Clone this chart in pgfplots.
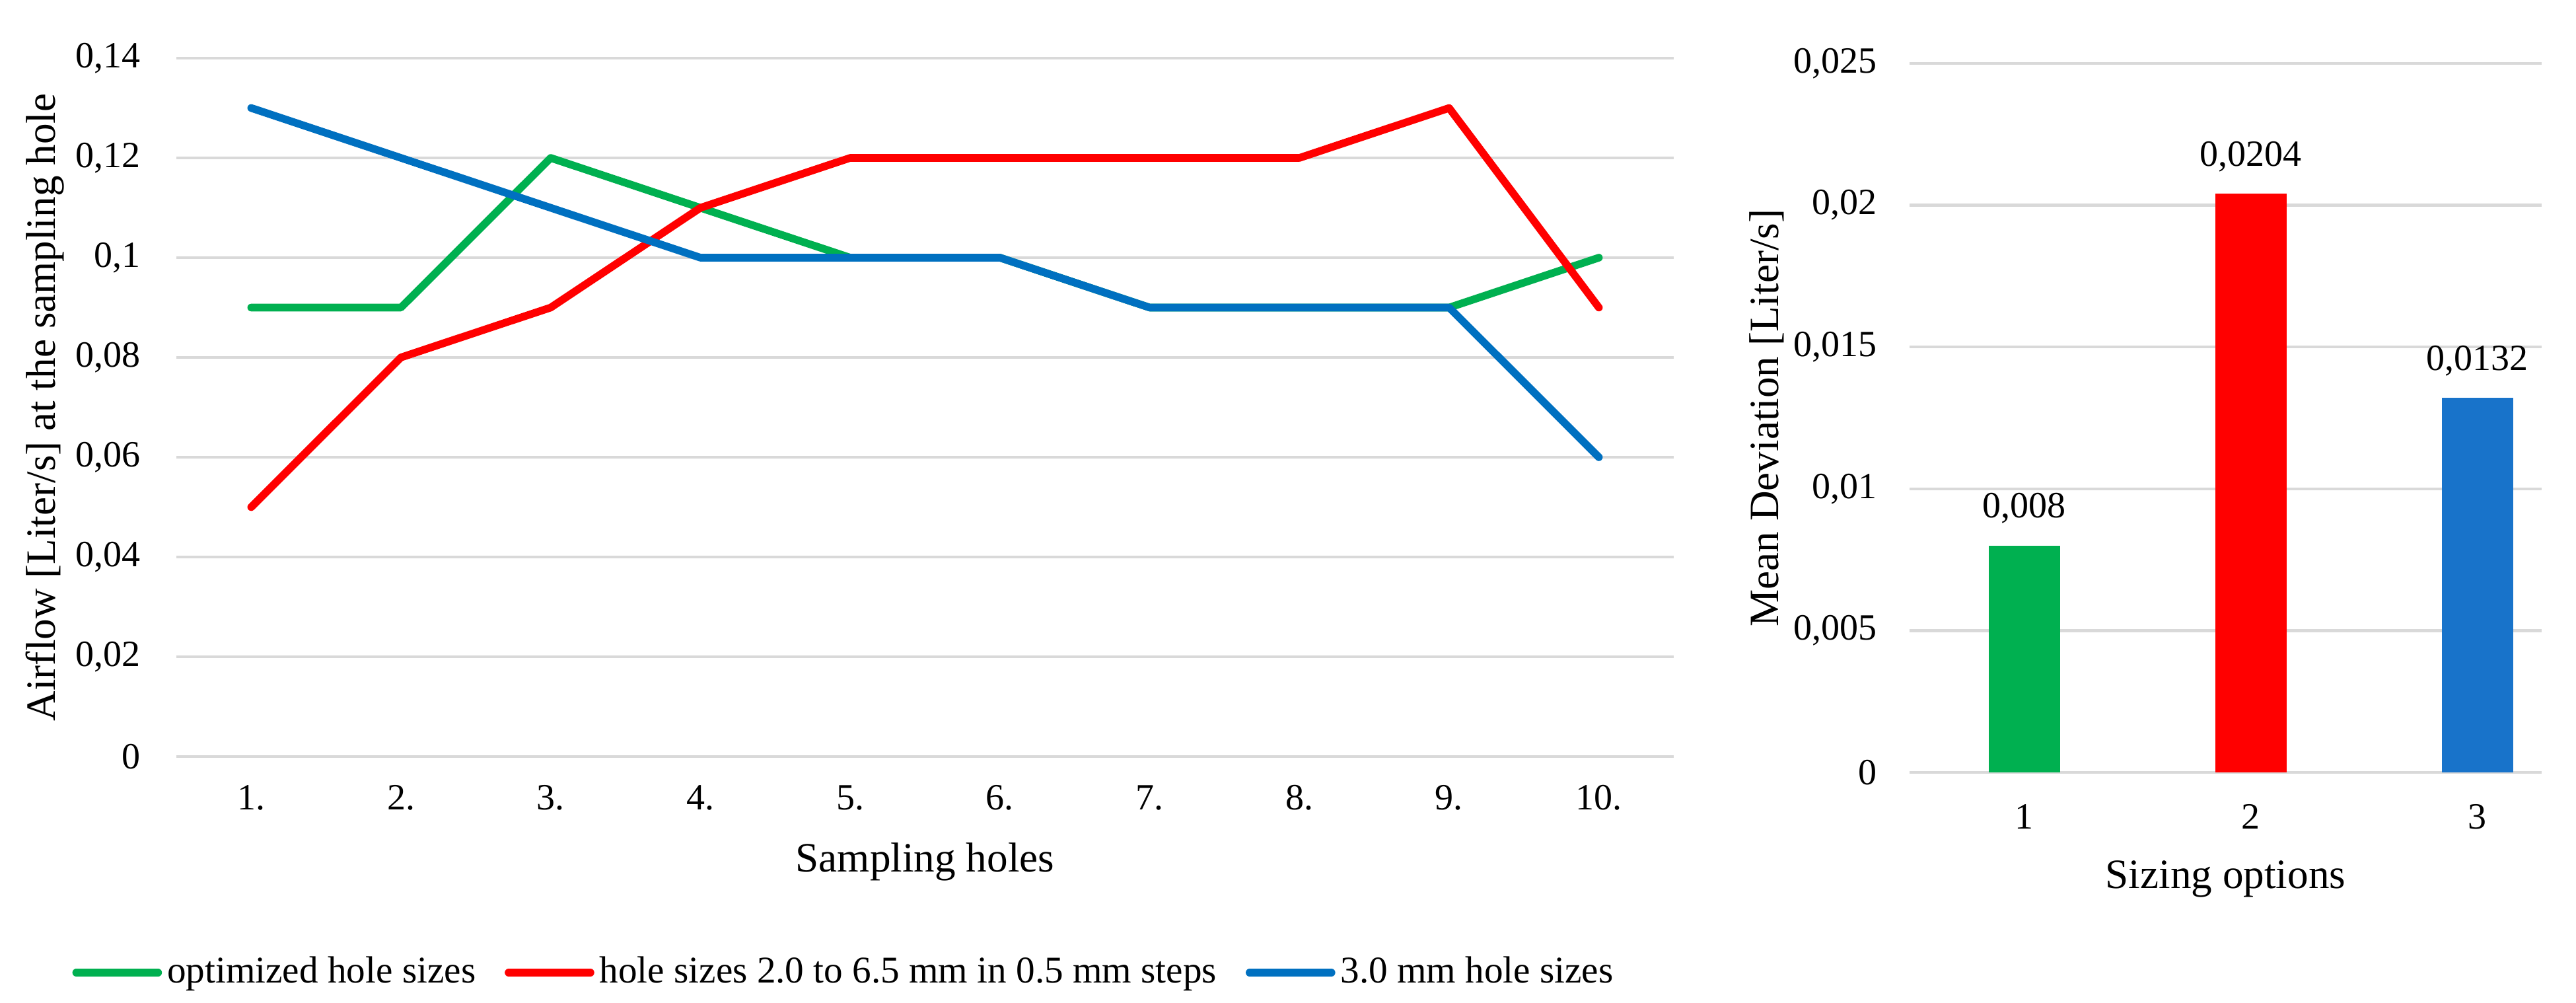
\documentclass[border=0pt]{standalone}
\usepackage{fontspec}
\setmainfont{Liberation Serif}
\usepackage{pgfplots}
\pgfplotsset{compat=1.18}
\definecolor{xgreen}{HTML}{00B050}
\definecolor{xred}{HTML}{FF0000}
\definecolor{xblue}{HTML}{0070C0}
\definecolor{barblue}{HTML}{1873CA}
\definecolor{gridgray}{HTML}{D9D9D9}

\pgfplotsset{
  excelstyle/.style={
    scale only axis,
    axis line style={draw=none},
    major tick length=0pt,
    ymajorgrids,
    major grid style={gridgray, line width=1.1pt},
    scaled y ticks=false,
    /pgf/number format/assume math mode=true,
    tick label style={font=\fontsize{14}{17}\selectfont},
    label style={font=\fontsize{15.8}{19}\selectfont},
  }
}

\begin{document}
\fontsize{14}{17}\selectfont
\begin{tikzpicture}
\useasboundingbox (0,0) rectangle (975pt,379.5pt);

% left: airflow per sampling hole
\begin{axis}[
  excelstyle,
  at={(66.75pt,93.25pt)}, anchor=south west,
  width=566.75pt, height=264.25pt,
  xmin=0.5, xmax=10.5,
  ymin=0, ymax=0.14,
  xtick={1,...,10},
  xticklabels={1.,2.,3.,4.,5.,6.,7.,8.,9.,10.},
  ytick={0,0.02,0.04,0.06,0.08,0.1,0.12,0.14},
  yticklabels={0,{0,02},{0,04},{0,06},{0,08},{0,1},{0,12},{0,14}},
  xticklabel style={yshift=-6pt},
  yticklabel style={xshift=-8.8pt},
  xlabel={Sampling holes},
  ylabel={Airflow [Liter/s] at the sampling hole},
  xlabel style={at={(axis description cs:0.5,0)}, anchor=base, yshift=-43.75pt},
  ylabel style={at={(axis description cs:0,0.5)}, anchor=base, yshift=46pt},
  legend columns=3,
  legend style={draw=none, fill=none,
    at={(axis description cs:0.4469,-0.3094)}, anchor=center,
    font=\fontsize{14.3}{17}\selectfont,
    /tikz/every even column/.append style={column sep=9pt},
    cells={inner xsep=1.5pt}},
  legend image code/.code={\draw[#1, line cap=round] (0pt,0pt) -- (31pt,0pt);},
  every axis plot/.append style={line width=2.9pt, line join=round, line cap=round},
]
\addplot[xgreen] coordinates {
  (1,0.09) (2,0.09) (3,0.12) (4,0.11) (5,0.10)
  (6,0.10) (7,0.09) (8,0.09) (9,0.09) (10,0.10)
};
\addlegendentry{optimized hole sizes}
\addplot[xred] coordinates {
  (1,0.05) (2,0.08) (3,0.09) (4,0.11) (5,0.12)
  (6,0.12) (7,0.12) (8,0.12) (9,0.13) (10,0.09)
};
\addlegendentry{hole sizes 2.0 to 6.5 mm in 0.5 mm steps}
\addplot[xblue] coordinates {
  (1,0.13) (2,0.12) (3,0.11) (4,0.10) (5,0.10)
  (6,0.10) (7,0.09) (8,0.09) (9,0.09) (10,0.06)
};
\addlegendentry{3.0 mm hole sizes}
\end{axis}

% right: mean deviation per sizing option
\begin{axis}[
  excelstyle,
  at={(722.75pt,87.25pt)}, anchor=south west,
  width=239.25pt, height=268.25pt,
  xmin=0.493, xmax=3.283,
  ymin=0, ymax=0.025,
  xtick={1,2,3},
  xticklabels={1,2,3},
  ytick={0,0.005,0.01,0.015,0.02,0.025},
  yticklabels={0,{0,005},{0,01},{0,015},{0,02},{0,025}},
  xticklabel style={yshift=-7.3pt},
  yticklabel style={xshift=-7.6pt},
  xlabel={Sizing options},
  ylabel={Mean Deviation [Liter/s]},
  xlabel style={at={(axis description cs:0.5,0)}, anchor=base, yshift=-44pt},
  ylabel style={at={(axis description cs:0,0.5)}, anchor=base, yshift=49.75pt},
  ybar, bar width=27pt, bar shift=0pt,
  nodes near coords,
  point meta=explicit symbolic,
  every node near coord/.append style={font=\fontsize{14}{17}\selectfont, anchor=base, yshift=10.5pt},
]
\addplot[fill=xgreen, draw=none] coordinates {(1,0.008) [0,008]};
\addplot[fill=xred, draw=none] coordinates {(2,0.0204) [0,0204]};
\addplot[fill=barblue, draw=none] coordinates {(3,0.0132) [0,0132]};
\end{axis}
\end{tikzpicture}
\end{document}
